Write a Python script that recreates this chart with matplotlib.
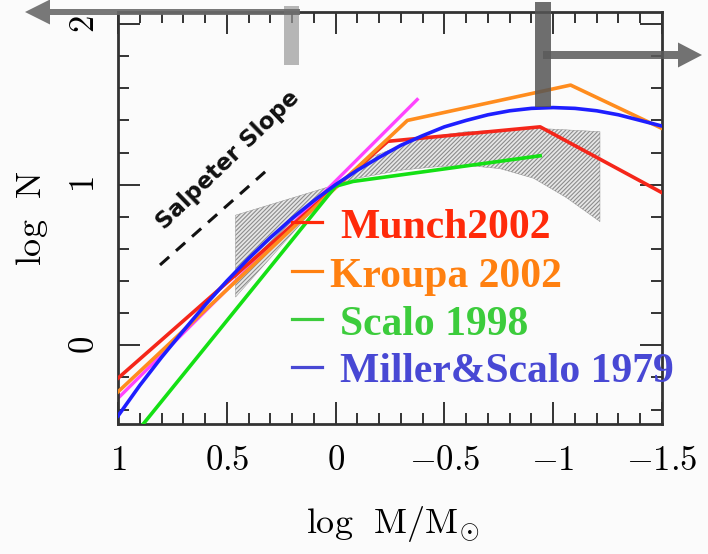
import matplotlib
matplotlib.use("Agg")
import matplotlib.pyplot as plt
from matplotlib.patches import FancyArrow, Rectangle
from matplotlib.lines import Line2D
from matplotlib.transforms import IdentityTransform
from matplotlib.ticker import MultipleLocator

plt.rcParams['mathtext.fontset'] = 'cm'
plt.rcParams['hatch.linewidth'] = 0.8

W, H = 708, 554

# IMF curves, x = log M/Msun, y = log N
munch_x = [1.0, -0.24, -0.94, -1.5]
munch_y = [-0.205, 1.27, 1.36, 0.95]
kroupa_x = [1.0, -0.33, -1.08, -1.5]
kroupa_y = [-0.29, 1.40, 1.62, 1.35]
pink_x = [1.0, -0.375]
pink_y = [-0.33, 1.53]
scalo_x = [0.89, 0.0, -0.08, -0.94]
scalo_y = [-0.50, 0.99, 1.02, 1.18]
ms_x = [1.0, 0.9, 0.8, 0.7, 0.6, 0.5, 0.4, 0.3, 0.2, 0.1, 0.0,
        -0.1, -0.2, -0.3, -0.4, -0.5, -0.6, -0.7, -0.8, -0.9, -1.0,
        -1.1, -1.2, -1.3, -1.4, -1.5]
ms_y = [-0.44, -0.25, -0.075, 0.09, 0.25, 0.40, 0.54, 0.67, 0.79, 0.90, 1.0,
        1.09, 1.17, 1.245, 1.305, 1.36, 1.40, 1.435, 1.46, 1.475, 1.48,
        1.475, 1.46, 1.435, 1.40, 1.365]

# shaded uncertainty band
band_x = [0.46, 0.12, 0.0, -0.16, -0.39, -0.6, -0.94, -1.215, -1.215,
          -1.06, -0.91, -0.755, -0.6, -0.45, -0.3, -0.1, 0.0, 0.46]
band_y = [0.81, 0.95, 1.0, 1.17, 1.29, 1.33, 1.35, 1.33, 0.77,
          0.92, 1.04, 1.10, 1.12, 1.11, 1.09, 1.04, 1.0, 0.30]

salp_x = [0.807, 0.324]
salp_y = [0.50, 1.08]

xticks = [1, 0.5, 0, -0.5, -1, -1.5]
xticklabels = ['$1$', '$0.5$', '$0$', '$-0.5$', '$-1$', '$-1.5$']
yticks = [0, 1, 2]
yticklabels = ['$0$', '$1$', '$2$']

legend_names = ['Munch2002', 'Kroupa 2002', 'Scalo 1998', 'Miller&Scalo 1979']
legend_colors = ['#ff2a0a', '#ff8010', '#3ccc3c', '#4848d4']

fig = plt.figure(figsize=(W / 100, H / 100), dpi=100, facecolor='#fbfbfb')
ax = fig.add_axes([118 / W, 1 - 424 / H, 544 / W, 412 / H])
ax.set_facecolor('#fbfbfb')

ax.fill(band_x, band_y, facecolor='#e6e6e6', edgecolor='#8c8c8c',
        hatch='/' * 8, linewidth=0.3, zorder=1)

ax.plot(pink_x, pink_y, color='#ff44ff', lw=2.4, zorder=2)
ax.plot(munch_x, munch_y, color='#f5261a', lw=2.6, zorder=3)
ax.plot(kroupa_x, kroupa_y, color='#ff8c1e', lw=2.6, zorder=3)
ax.plot(scalo_x, scalo_y, color='#14e014', lw=2.6, zorder=4)
ax.plot(ms_x, ms_y, color='#1e1eff', lw=2.6, zorder=4)

ax.plot(salp_x, salp_y, color='#111111', lw=2.2, ls=(0, (4, 3)))
ax.text(0.494, 1.15, 'Salpeter Slope', rotation=44, rotation_mode='anchor',
        ha='center', va='center', fontsize=16.5, fontweight='bold',
        family='DejaVu Sans', color='#111111')

ax.set_xlim(1, -1.5)
ax.set_ylim(-0.49, 2.075)
ax.set_xticks(xticks)
ax.set_xticklabels(xticklabels)
ax.set_yticks(yticks)
ax.set_yticklabels(yticklabels, rotation=90, va='center')
ax.xaxis.set_minor_locator(MultipleLocator(0.1))
ax.yaxis.set_minor_locator(MultipleLocator(0.2))
ax.tick_params(which='both', direction='in', top=True, right=True,
               color='#333333', width=1.4)
ax.tick_params(which='major', length=16, labelsize=25)
ax.tick_params(which='minor', length=8)
ax.tick_params(axis='x', pad=14)
ax.tick_params(axis='y', pad=12)
for s in ax.spines.values():
    s.set_linewidth(2)
    s.set_color('#333333')

ax.set_xlabel(r'$\mathrm{log\ \ M/M_{\odot}}$', fontsize=26)
ax.xaxis.set_label_coords(0.504, -0.195)
ax.set_ylabel(r'$\mathrm{log\ \ N}$', fontsize=26)
ax.yaxis.set_label_coords(-0.125, 0.5)

# legend drawn by hand on top of the frame
leg_text_x = [340, 330, 340, 340]
leg_base_y = [238, 287, 335, 382]
leg_dash_y = [222, 271, 319, 367]
for name, c, tx, by, dy in zip(legend_names, legend_colors, leg_text_x, leg_base_y, leg_dash_y):
    fig.add_artist(Line2D([292, 322], [H - dy, H - dy], color=c, lw=2.3,
                          transform=IdentityTransform()))
    fig.text(tx / W, 1 - by / H, name, color=c, fontsize=30, fontweight='bold',
             family='Liberation Serif', va='baseline', ha='left', zorder=10)

# gray markers and arrows
fig.add_artist(Rectangle((284, H - 65), 15, 59, facecolor='#999999', alpha=0.7,
                         lw=0, transform=IdentityTransform(), zorder=5))
fig.add_artist(FancyArrow(300, H - 12, -275, 0, width=6, head_width=25, head_length=25,
                          length_includes_head=True, color='#6a6a6a', alpha=0.9, lw=0,
                          transform=IdentityTransform(), zorder=6))
fig.add_artist(Rectangle((535, H - 107), 16, 105, facecolor='#555555', alpha=0.85,
                         lw=0, transform=IdentityTransform(), zorder=6))
fig.add_artist(FancyArrow(543, H - 55, 159, 0, width=8, head_width=25, head_length=24,
                          length_includes_head=True, color='#5a5a5a', alpha=0.85, lw=0,
                          transform=IdentityTransform(), zorder=7))

fig.savefig('out.png', dpi=100, facecolor=fig.get_facecolor())
